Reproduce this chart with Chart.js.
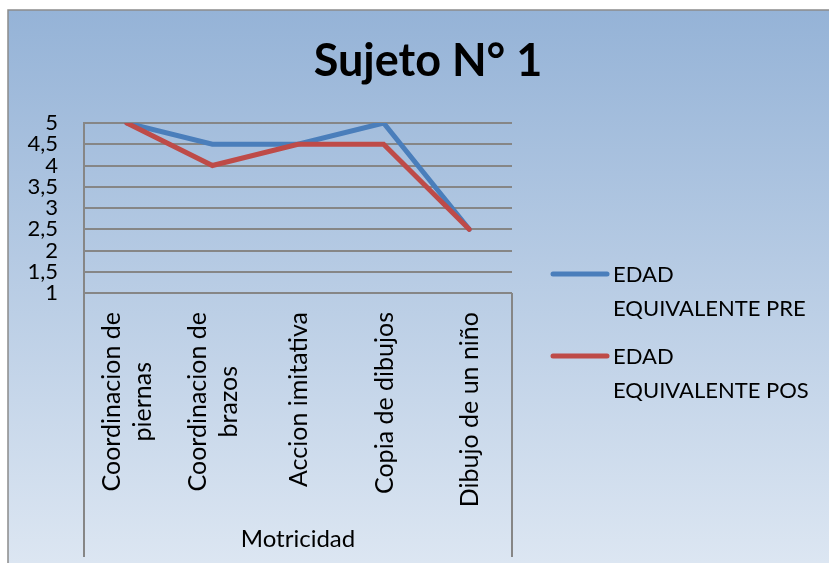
<!DOCTYPE html>
<html>
<head>
<meta charset="utf-8">
<script src="https://cdn.jsdelivr.net/npm/chart.js@4/dist/chart.umd.min.js"></script>
<style>
html,body{margin:0;padding:0;background:#fff;}
#wrap{width:829px;height:563px;position:relative;}
</style>
</head>
<body>
<div id="wrap"><canvas id="c" width="829" height="563"></canvas></div>
<script>
// ---- data ----
const chartTitle = "Sujeto N° 1";
const groupLabel = "Motricidad";
const categories = [
  ["Coordinacion de", "piernas"],
  ["Coordinacion de", "brazos"],
  ["Accion imitativa"],
  ["Copia de dibujos"],
  ["Dibujo de un niño"]
];
const seriesPreName = ["EDAD", "EQUIVALENTE PRE"];
const seriesPosName = ["EDAD", "EQUIVALENTE POS"];
const edadPre = [5, 4.5, 4.5, 5, 2.5];
const edadPos = [5, 4, 4.5, 4.5, 2.5];
const yTicks = [1, 1.5, 2, 2.5, 3, 3.5, 4, 4.5, 5];

const FONT = "Lato";
const BLUE = "#4a7ebb";
const RED = "#be4b48";
const GRID = "#868686";

const framePlugin = {
  id: "frame",
  beforeDraw(chart) {
    const {ctx, width, height} = chart;
    ctx.save();
    ctx.fillStyle = "#ffffff";
    ctx.fillRect(0, 0, width, height);
    const g = ctx.createLinearGradient(0, 10, 0, height);
    g.addColorStop(0, "#95b3d7");
    g.addColorStop(1, "#dce6f2");
    ctx.fillStyle = g;
    ctx.fillRect(8, 10, width - 8, height - 10);
    ctx.strokeStyle = "#8c8c8c";
    ctx.lineWidth = 1.5;
    ctx.beginPath();
    ctx.moveTo(8, height);
    ctx.lineTo(8, 10);
    ctx.lineTo(width, 10);
    ctx.stroke();
    ctx.restore();
  }
};

const catPlugin = {
  id: "cats",
  afterDraw(chart) {
    const {ctx, chartArea} = chart;
    const xs = chart.scales.x;
    ctx.save();
    ctx.font = "25px " + FONT;
    ctx.fillStyle = "#000";
    ctx.textBaseline = "alphabetic";
    ctx.textAlign = "center";
    const lineGap = 31;
    const topY = chartArea.bottom + 19;
    chart.data.labels.forEach((lab, i) => {
      const lines = Array.isArray(lab) ? lab : [lab];
      const maxW = Math.max(...lines.map(l => ctx.measureText(l).width));
      const x = xs.getPixelForValue(i);
      ctx.save();
      ctx.translate(x, topY);
      ctx.rotate(-Math.PI / 2);
      lines.forEach((l, k) => {
        ctx.fillText(l, -maxW / 2, 9 + (k - (lines.length - 1) / 2) * lineGap);
      });
      ctx.restore();
    });
    // multi-level category box lines
    ctx.strokeStyle = GRID;
    ctx.lineWidth = 2;
    ctx.beginPath();
    ctx.moveTo(chartArea.left, chartArea.bottom);
    ctx.lineTo(chartArea.left, chart.height - 6);
    ctx.moveTo(chartArea.right, chartArea.bottom);
    ctx.lineTo(chartArea.right, chart.height - 6);
    ctx.stroke();
    ctx.restore();
  }
};

const legendPlugin = {
  id: "legendRight",
  afterDraw(chart) {
    const {ctx, chartArea} = chart;
    ctx.save();
    ctx.font = "22px " + FONT;
    ctx.textBaseline = "middle";
    ctx.textAlign = "left";
    ctx.fillStyle = "#000";
    const names = [seriesPreName, seriesPosName];
    chart.data.datasets.forEach((ds, i) => {
      const y = chartArea.bottom - 19 + i * 82;
      ctx.strokeStyle = ds.borderColor;
      ctx.lineWidth = 5;
      ctx.lineCap = "round";
      ctx.beginPath();
      ctx.moveTo(chartArea.right + 41, y);
      ctx.lineTo(chartArea.right + 95, y);
      ctx.stroke();
      names[i].forEach((t, k) => ctx.fillText(t, chartArea.right + 101, y + 1 + k * 34));
    });
    ctx.restore();
  }
};

new Chart(document.getElementById("c"), {
  type: "line",
  data: {
    labels: categories,
    datasets: [
      {label: seriesPreName.join(" "), data: edadPre, borderColor: BLUE, backgroundColor: BLUE,
       borderWidth: 5, pointRadius: 0, tension: 0, borderCapStyle: "round", order: 1},
      {label: seriesPosName.join(" "), data: edadPos, borderColor: RED, backgroundColor: RED,
       borderWidth: 5, pointRadius: 0, tension: 0, borderCapStyle: "round", order: 0}
    ]
  },
  options: {
    responsive: false,
    animation: false,
    devicePixelRatio: 1,
    layout: {padding: {top: 10, right: 0, bottom: 0, left: 27}},
    plugins: {
      legend: {display: false},
      tooltip: {enabled: false},
      title: {
        display: true, text: chartTitle, color: "#000",
        font: {family: FONT, size: 45, weight: "bold"},
        padding: {top: 24, bottom: 35}
      }
    },
    scales: {
      x: {
        type: "category",
        offset: true,
        grid: {display: false},
        border: {display: false},
        ticks: {display: false},
        title: {display: true, text: groupLabel, color: "#000",
                font: {family: FONT, size: 24}, padding: {top: 0, bottom: 9}},
        afterFit(s) { s.height = 270; }
      },
      y: {
        min: 1, max: 5,
        afterBuildTicks(s) { s.ticks = yTicks.map(v => ({value: v})); },
        ticks: {
          color: "#000", padding: 26, autoSkip: false,
          font: {family: FONT, size: 22},
          callback: v => String(v).replace(".", ",")
        },
        grid: {color: GRID, lineWidth: 2, drawTicks: false},
        border: {display: true, color: GRID, width: 2},
        afterFit(s) { s.width = 57; }
      },
      legendSpace: {
        type: "linear",
        position: "right",
        display: true,
        grid: {display: false},
        border: {display: false},
        ticks: {display: false},
        afterFit(s) { s.width = 317; }
      }
    }
  },
  plugins: [framePlugin, catPlugin, legendPlugin]
});
</script>
</body>
</html>
